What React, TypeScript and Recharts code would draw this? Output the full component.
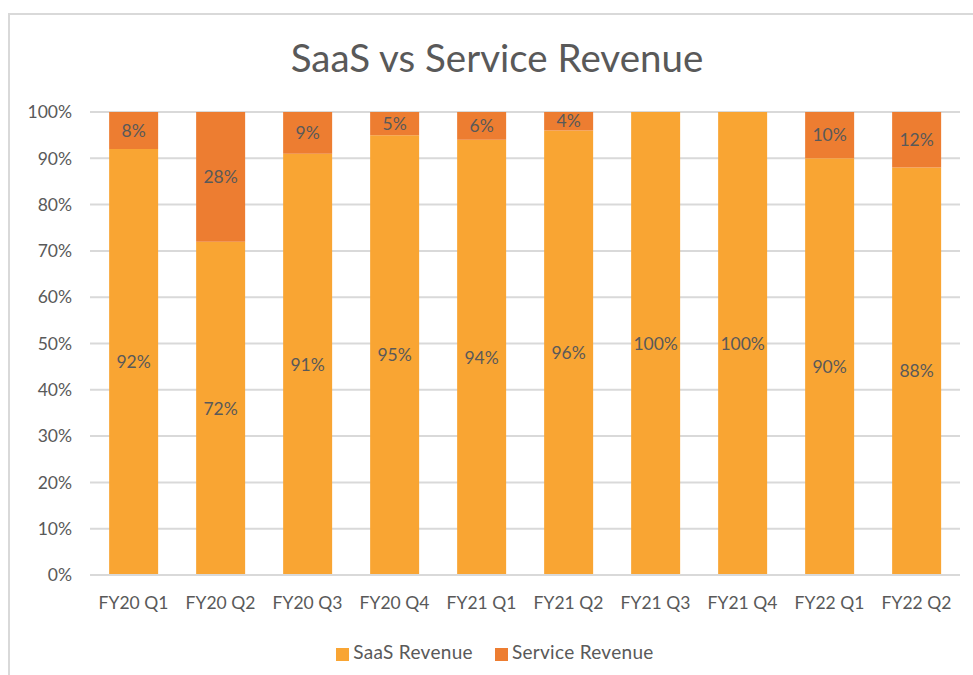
import { BarChart, Bar, XAxis, YAxis, CartesianGrid, Legend, LabelList } from "recharts";

const quarters = ["FY20 Q1", "FY20 Q2", "FY20 Q3", "FY20 Q4", "FY21 Q1", "FY21 Q2", "FY21 Q3", "FY21 Q4", "FY22 Q1", "FY22 Q2"];
const saasRevenue = [92, 72, 91, 95, 94, 96, 100, 100, 90, 88];
const serviceRevenue = [8, 28, 9, 5, 6, 4, 0, 0, 10, 12];
const yTicks = [0, 0.1, 0.2, 0.3, 0.4, 0.5, 0.6, 0.7, 0.8, 0.9, 1];

const SAAS = "#F9A533";
const SERVICE = "#ED7D31";
const TEXT = "#595959";
const FONT = "Lato, 'Open Sans', sans-serif";

const data = quarters.map((q, i) => ({
  quarter: q,
  saas: saasRevenue[i],
  service: serviceRevenue[i],
}));

const pct = (v: any) => (v ? `${v}%` : "");

export default function App() {
  return (
    <div style={{ position: "fixed", left: 0, top: 0, width: 973, height: 675, background: "#fff", fontFamily: FONT }}>
      <div
        style={{
          position: "absolute",
          left: 8,
          top: 13,
          width: 978,
          height: 700,
          border: "2px solid #d9d9d9",
          boxSizing: "border-box",
        }}
      />
      <div
        style={{
          position: "absolute",
          left: 8,
          width: 978,
          top: 34,
          textAlign: "center",
          fontSize: 38.5,
          color: TEXT,
        }}
      >
        SaaS vs Service Revenue
      </div>
      <div style={{ position: "absolute", left: 0, top: 0 }}>
        <BarChart
          width={973}
          height={675}
          data={data}
          stackOffset="expand"
          barCategoryGap="22%"
          margin={{ top: 112, right: 13, left: 8, bottom: 41 }}
        >
          <CartesianGrid vertical={false} stroke="#d9d9d9" strokeWidth={2} />
          <XAxis
            dataKey="quarter"
            axisLine={{ stroke: "#d9d9d9", strokeWidth: 2 }}
            tickLine={false}
            tick={{ fill: TEXT, fontSize: 17.5, fontFamily: FONT }}
            tickMargin={16}
            height={36}
          />
          <YAxis
            domain={[0, 1]}
            ticks={yTicks}
            tickFormatter={(v: number) => `${Math.round(v * 100)}%`}
            axisLine={false}
            tickLine={false}
            tick={{ fill: TEXT, fontSize: 17.5, fontFamily: FONT }}
            tickMargin={12}
            width={82}
          />
          <Legend
            verticalAlign="bottom"
            iconType="square"
            iconSize={13}
            wrapperStyle={{ fontSize: 19, fontFamily: FONT, color: TEXT, bottom: 12, left: 30, width: 952 }}
            formatter={(value: string) => <span style={{ color: TEXT, marginRight: 12, letterSpacing: 0.3 }}>{value}</span>}
          />
          <Bar dataKey="saas" name="SaaS Revenue" stackId="a" fill={SAAS} isAnimationActive={false}>
            <LabelList dataKey="saas" position="center" formatter={pct} fill={TEXT} fontSize={17.5} fontFamily={FONT} />
          </Bar>
          <Bar dataKey="service" name="Service Revenue" stackId="a" fill={SERVICE} isAnimationActive={false}>
            <LabelList dataKey="service" position="center" formatter={pct} fill={TEXT} fontSize={17.5} fontFamily={FONT} />
          </Bar>
        </BarChart>
      </div>
    </div>
  );
}
